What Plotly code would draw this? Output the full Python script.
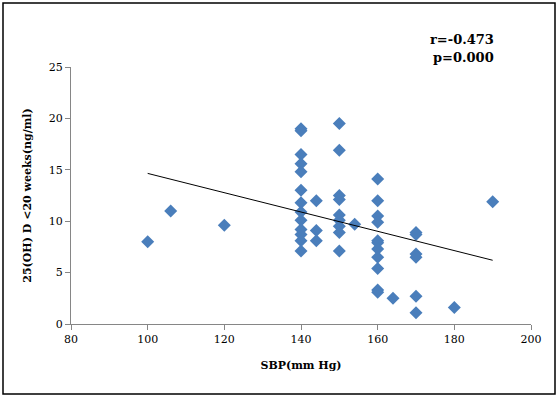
import plotly.graph_objects as go

sbp = [100, 106, 120,
       140, 140, 140, 140, 140, 140, 140, 140, 140, 140, 140, 140, 140,
       144, 144, 144,
       150, 150, 150, 150, 150, 150, 150, 150, 150,
       154,
       160, 160, 160, 160, 160, 160, 160, 160, 160, 160, 160,
       164,
       170, 170, 170, 170, 170, 170,
       180, 190]
vitd = [8.0, 11.0, 9.6,
        19.0, 18.8, 16.5, 15.6, 14.8, 13.0, 11.8, 10.9, 10.1, 9.2, 8.7, 8.1, 7.1,
        12.0, 9.1, 8.1,
        19.5, 16.9, 12.5, 12.1, 10.6, 10.1, 9.5, 8.9, 7.1,
        9.7,
        14.1, 12.0, 10.5, 9.9, 8.1, 7.9, 7.3, 6.5, 5.4, 3.3, 3.1,
        2.5,
        8.9, 8.7, 6.8, 6.5, 2.7, 1.1,
        1.6, 11.9]
trend_x = [100, 190]
trend_y = [14.65, 6.2]
x_ticks = [80, 100, 120, 140, 160, 180, 200]
y_ticks = [0, 5, 10, 15, 20, 25]
stats_text = ["r=-0.473", "p=0.000"]

font_serif = "DejaVu Serif, Liberation Serif, serif"

fig = go.Figure()
fig.add_trace(go.Scatter(
    x=sbp, y=vitd, mode="markers",
    marker=dict(symbol="diamond", size=10, color="#4a7ebb",
                line=dict(width=0)),
    showlegend=False, hoverinfo="x+y"))
fig.add_trace(go.Scatter(
    x=trend_x, y=trend_y, mode="lines",
    line=dict(color="black", width=1), showlegend=False))

fig.update_layout(
    width=559, height=397,
    margin=dict(l=71, r=28, t=67, b=73),
    paper_bgcolor="white", plot_bgcolor="white",
    font=dict(family=font_serif, size=11, color="black"),
    xaxis=dict(range=[80, 200], tickvals=x_ticks, showgrid=False, zeroline=False,
               showline=True, linecolor="#868686", linewidth=1,
               ticks="outside", ticklen=5, tickcolor="#868686",
               tickfont=dict(size=11, family=font_serif),
               title=dict(text="<b>SBP(mm Hg)</b>", font=dict(size=11, family=font_serif),
                          standoff=16)),
    yaxis=dict(range=[0, 25], tickvals=y_ticks, showgrid=False, zeroline=False,
               showline=True, linecolor="#868686", linewidth=1,
               ticks="outside", ticklen=5, tickcolor="#868686",
               tickfont=dict(size=11, family=font_serif),
               title=dict(text="<b>25(OH) D <20 weeks(ng/ml)</b>",
                          font=dict(size=11, family=font_serif), standoff=14)),
    annotations=[
        dict(xref="paper", yref="paper", x=(496 - 71) / 460, y=(324 - 40) / 257,
             xanchor="right", yanchor="middle", showarrow=False,
             text="<b>" + stats_text[0] + "</b>", font=dict(size=13, family=font_serif)),
        dict(xref="paper", yref="paper", x=(496 - 71) / 460, y=(324 - 58) / 257,
             xanchor="right", yanchor="middle", showarrow=False,
             text="<b>" + stats_text[1] + "</b>", font=dict(size=13, family=font_serif)),
    ],
    shapes=[dict(type="rect", xref="paper", yref="paper",
                 x0=(3 - 71) / 460, x1=(555 - 71) / 460,
                 y0=(324 - 394) / 257, y1=(324 - 3) / 257,
                 line=dict(color="black", width=1.5), fillcolor="rgba(0,0,0,0)")],
)

fig.write_html("out.html", config={"displayModeBar": False},
               post_script="document.body.style.margin='0';")
